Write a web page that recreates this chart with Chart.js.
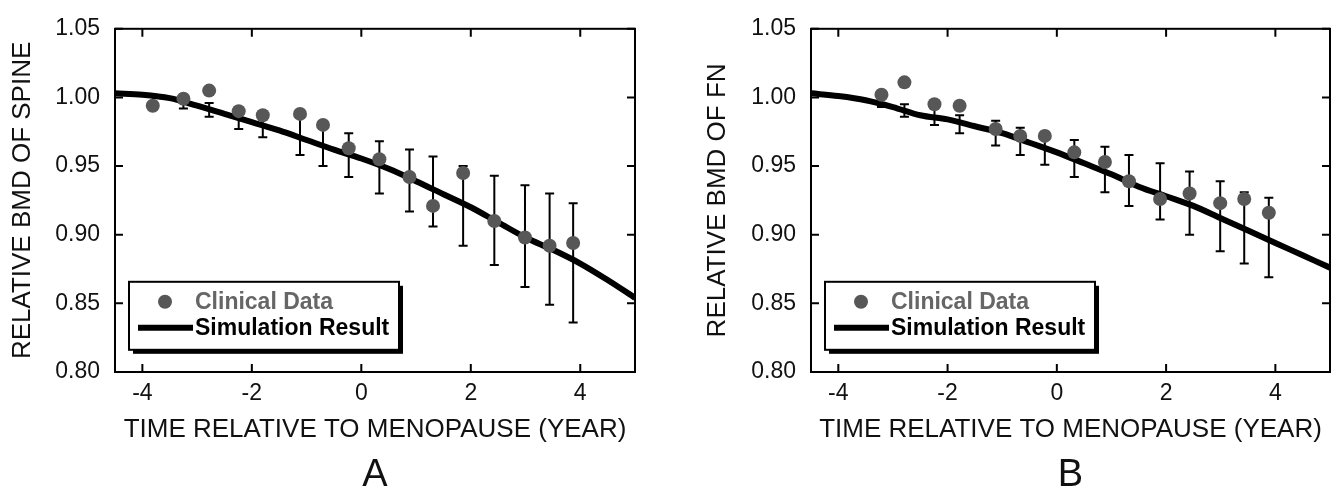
<!DOCTYPE html>
<html>
<head>
<meta charset="utf-8">
<title>Relative BMD vs time relative to menopause</title>
<script src="https://cdn.jsdelivr.net/npm/chart.js@4.4.0/dist/chart.umd.min.js"></script>
<style>
  html, body { margin: 0; padding: 0; background: #fff; }
  .panel { position: absolute; top: 0; width: 671px; height: 496px; }
  #panelA { left: 0; }
  #panelB { left: 671px; }
</style>
</head>
<body>
<div class="panel" id="panelA"><canvas id="spineChart"></canvas></div>
<div class="panel" id="panelB"><canvas id="fnChart"></canvas></div>
<script>
const xTickValues = [-4, -2, 0, 2, 4];
const yTickValues = [0.80, 0.85, 0.90, 0.95, 1.00, 1.05];

// panel A - spine
const spineYears = [-3.81, -3.25, -2.78, -2.24, -1.80, -1.12, -0.70, -0.23, 0.33, 0.88, 1.31, 1.86, 2.43, 2.99, 3.44, 3.87];
const spineBMD   = [0.994, 0.999, 1.005, 0.990, 0.987, 0.988, 0.980, 0.963, 0.955, 0.942, 0.921, 0.945, 0.910, 0.898, 0.892, 0.894];
const spineLow   = [0.992, 0.992, 0.986, 0.977, 0.971, 0.958, 0.950, 0.942, 0.930, 0.917, 0.906, 0.892, 0.878, 0.862, 0.849, 0.836];
const spineHigh  = [1.002, 1.002, 0.996, 0.993, 0.989, 0.990, 0.982, 0.974, 0.968, 0.962, 0.957, 0.950, 0.943, 0.936, 0.930, 0.923];

// panel B - femoral neck
const fnYears = [-3.21, -2.79, -2.24, -1.78, -1.12, -0.67, -0.22, 0.32, 0.88, 1.32, 1.89, 2.43, 2.99, 3.43, 3.88];
const fnBMD   = [1.002, 1.011, 0.995, 0.994, 0.977, 0.972, 0.972, 0.960, 0.953, 0.939, 0.926, 0.930, 0.923, 0.926, 0.916];
const fnLow   = [0.993, 0.986, 0.980, 0.974, 0.965, 0.958, 0.951, 0.942, 0.931, 0.921, 0.911, 0.900, 0.888, 0.879, 0.869];
const fnHigh  = [1.003, 0.995, 0.997, 0.987, 0.983, 0.978, 0.975, 0.969, 0.964, 0.958, 0.952, 0.946, 0.939, 0.931, 0.927];

// simulation curves
const simYears = [-4.5, -4.0, -3.5, -3.0, -2.5, -2.0, -1.5, -1.0, -0.5, 0, 0.5, 1.0, 1.5, 2.0, 2.5, 3.0, 3.5, 4.0, 4.5, 5.0];
const spineSim = [1.003, 1.002, 0.9995, 0.994, 0.988, 0.982, 0.976, 0.969, 0.962, 0.9555, 0.948, 0.939, 0.9295, 0.920, 0.909, 0.898, 0.889, 0.879, 0.867, 0.854];
const fnSim    = [1.003, 1.001, 0.998, 0.993, 0.987, 0.984, 0.979, 0.974, 0.967, 0.960, 0.952, 0.944, 0.935, 0.928, 0.921, 0.912, 0.903, 0.894, 0.885, 0.876];

const FONT = "'Liberation Sans', Arial, sans-serif";

// error bars go under the line and the dots
const errorBars = {
    id: 'errorBars',
    beforeDatasetsDraw(chart) {
        const {ctx, scales: {x, y}} = chart;
        const ds = chart.data.datasets[0];
        ctx.save();
        ctx.strokeStyle = '#000';
        ctx.lineWidth = 2;
        ctx.beginPath();
        ds.data.forEach((p, i) => {
            const px = x.getPixelForValue(p.x);
            const lo = y.getPixelForValue(ds.errLow[i]);
            const hi = y.getPixelForValue(ds.errHigh[i]);
            ctx.moveTo(px, lo); ctx.lineTo(px, hi);
            ctx.moveTo(px - 4.5, lo); ctx.lineTo(px + 4.5, lo);
            ctx.moveTo(px - 4.5, hi); ctx.lineTo(px + 4.5, hi);
        });
        ctx.stroke();
        ctx.restore();
    }
};

// box round the plot with tick marks pointing inwards on all sides
const frame = {
    id: 'frame',
    afterDatasetsDraw(chart) {
        const {ctx, chartArea: a, scales: {x, y}} = chart;
        ctx.save();
        ctx.strokeStyle = '#000';
        ctx.lineWidth = 2;
        ctx.strokeRect(a.left, a.top, a.right - a.left, a.bottom - a.top);
        ctx.beginPath();
        x.ticks.forEach(t => {
            const px = x.getPixelForValue(t.value);
            ctx.moveTo(px, a.bottom); ctx.lineTo(px, a.bottom - 8);
            ctx.moveTo(px, a.top); ctx.lineTo(px, a.top + 8);
        });
        y.ticks.forEach(t => {
            const py = y.getPixelForValue(t.value);
            ctx.moveTo(a.left, py); ctx.lineTo(a.left + 8, py);
            ctx.moveTo(a.right, py); ctx.lineTo(a.right - 8, py);
        });
        ctx.stroke();
        ctx.restore();
    }
};

// legend box in the lower left corner, with a drop shadow
const boxLegend = {
    id: 'boxLegend',
    afterDraw(chart) {
        const {ctx, chartArea: a} = chart;
        const [pts, sim] = chart.data.datasets;
        const bx = a.left + 14, by = a.top + 253, bw = 270, bh = 68;
        ctx.save();
        ctx.fillStyle = '#000';
        ctx.fillRect(bx + 4, by + 4, bw, bh);
        ctx.fillStyle = '#fff';
        ctx.fillRect(bx, by, bw, bh);
        ctx.strokeStyle = '#000';
        ctx.lineWidth = 2;
        ctx.strokeRect(bx, by, bw, bh);

        ctx.fillStyle = pts.backgroundColor;
        ctx.beginPath();
        ctx.arc(bx + 36, by + 20, pts.pointRadius, 0, Math.PI * 2);
        ctx.fill();

        ctx.strokeStyle = sim.borderColor;
        ctx.lineWidth = sim.borderWidth;
        ctx.beginPath();
        ctx.moveTo(bx + 9, by + 46); ctx.lineTo(bx + 64, by + 46);
        ctx.stroke();

        ctx.font = 'bold 23px ' + FONT;
        ctx.textBaseline = 'middle';
        ctx.fillStyle = '#666';
        ctx.fillText(pts.label, bx + 66, by + 21);
        ctx.fillStyle = '#000';
        ctx.fillText(sim.label, bx + 66, by + 47);
        ctx.restore();
    }
};

function makePanel(canvasId, opts) {
    const ctx = document.getElementById(canvasId).getContext('2d');
    return new Chart(ctx, {
        type: 'scatter',
        data: {
            datasets: [{
                label: 'Clinical Data',
                data: opts.years.map((v, i) => ({x: v, y: opts.bmd[i]})),
                errLow: opts.low,
                errHigh: opts.high,
                backgroundColor: '#575757',
                pointRadius: 7,
                pointBorderWidth: 0,
                showLine: false
            }, {
                label: 'Simulation Result',
                data: simYears.map((v, i) => ({x: v, y: opts.sim[i]})),
                borderColor: '#000',
                borderWidth: 6,
                pointRadius: 0,
                showLine: true,
                cubicInterpolationMode: 'monotone'
            }]
        },
        options: {
            responsive: true,
            maintainAspectRatio: false,
            animation: false,
            layout: { padding: { top: 24, right: opts.padRight, bottom: 1, left: 0 } },
            scales: {
                x: {
                    type: 'linear',
                    min: -4.5,
                    max: 5,
                    afterBuildTicks: s => { s.ticks = xTickValues.map(v => ({value: v})); },
                    afterFit: s => { s.height = 73; },
                    grid: { display: false, drawTicks: false },
                    border: { display: false },
                    ticks: { padding: 8, color: '#111', font: { family: FONT, size: 23 } },
                    title: {
                        display: true,
                        text: 'TIME RELATIVE TO MENOPAUSE (YEAR)',
                        color: '#111',
                        font: { family: FONT, size: 26 },
                        padding: { top: 0, bottom: 0 }
                    }
                },
                y: {
                    min: 0.8,
                    max: 1.05,
                    afterBuildTicks: s => { s.ticks = yTickValues.map(v => ({value: v})); },
                    afterFit: s => { s.width = opts.axisWidth; },
                    grid: { display: false, drawTicks: false },
                    border: { display: false },
                    ticks: {
                        padding: 15,
                        color: '#111',
                        font: { family: FONT, size: 23 },
                        callback: v => v.toFixed(2)
                    },
                    title: {
                        display: true,
                        text: opts.yTitle,
                        color: '#111',
                        font: { family: FONT, size: 26 },
                        padding: { top: opts.titlePad, bottom: 0 }
                    }
                }
            },
            plugins: {
                legend: { display: false },
                tooltip: { enabled: false },
                title: {
                    display: true,
                    position: 'bottom',
                    fullSize: false,
                    text: opts.letter,
                    color: '#111',
                    font: { family: FONT, size: 38, weight: 'normal', lineHeight: 1 },
                    padding: { top: 12, bottom: 0 }
                }
            }
        },
        plugins: [errorBars, frame, boxLegend]
    });
}

makePanel('spineChart', {
    years: spineYears, bmd: spineBMD, low: spineLow, high: spineHigh, sim: spineSim,
    yTitle: 'RELATIVE BMD OF SPINE', letter: 'A',
    axisWidth: 115, padRight: 36, titlePad: 7
});

makePanel('fnChart', {
    years: fnYears, bmd: fnBMD, low: fnLow, high: fnHigh, sim: fnSim,
    yTitle: 'RELATIVE BMD OF FN', letter: 'B',
    axisWidth: 140, padRight: 12, titlePad: 31
});
</script>
</body>
</html>
